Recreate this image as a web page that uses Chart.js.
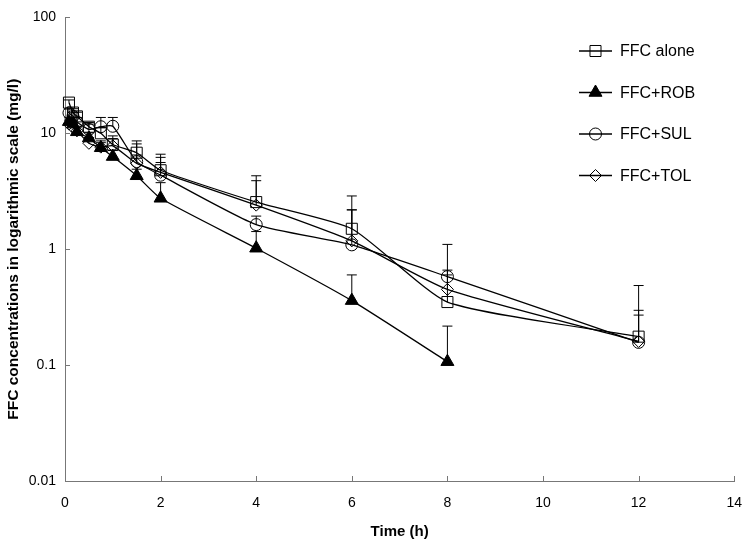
<!DOCTYPE html>
<html>
<head>
<meta charset="utf-8">
<script src="https://cdn.jsdelivr.net/npm/chart.js@4.4.1/dist/chart.umd.min.js"></script>
<style>
  html, body { margin: 0; padding: 0; background: #fff; }
  #wrap { width: 756px; height: 545px; }
</style>
</head>
<body>
<div id="wrap"><canvas id="pkChart"></canvas></div>
<script>
// Sampling times (h)
const times = [0.083, 0.167, 0.25, 0.5, 0.75, 1, 1.5, 2, 4, 6, 8, 12];

const seriesNames = ['FFC alone', 'FFC+ROB', 'FFC+SUL', 'FFC+TOL'];

// Mean concentrations (mg/l) and upper SD
const ffcAlone   = [18.4, 15.1, 14.0, 11.4, 10.0, 8.0, 6.8, 4.8, 2.55, 1.5, 0.35, 0.176];
const ffcAloneSd = [1.0, 1.2, 1.2, 1.0, 1.2, 1.5, 1.3, 1.8, 1.75, 1.38, 0.25, 0.31];

const ffcRob   = [12.6, 12.0, 10.3, 9.1, 7.5, 6.3, 4.3, 2.75, 1.02, 0.36, 0.107];
const ffcRobSd = [1.0, 1.0, 1.0, 1.0, 0.8, 0.8, 0.6, 1.0, 0.4, 0.24, 0.11];

const ffcSul   = [15.0, 14.0, 12.5, 10.8, 11.4, 11.5, 5.7, 4.35, 1.63, 1.09, 0.58, 0.157];
const ffcSulSd = [1.2, 1.2, 1.2, 1.2, 2.3, 2.2, 2.9, 1.85, 0.3, 1.1, 0.52, 0.14];

const ffcTol   = [12.0, 11.2, 10.5, 8.2, 7.6, 7.8, 5.5, 4.6, 2.4, 1.18, 0.45, 0.16];
const ffcTolSd = [1.0, 1.0, 1.0, 1.0, 1.0, 1.2, 1.0, 1.0, 1.5, 1.0, 0.21, 0.11];

const xTicks = [0, 2, 4, 6, 8, 10, 12, 14];
const yTicks = [0.01, 0.1, 1, 10, 100];

const FONT = "'Liberation Sans', Arial, sans-serif";
const AXIS_COLOR = '#777';

function points(values) {
    return values.map((v, i) => ({ x: times[i], y: v }));
}

const markers = [
    { style: 'rect', radius: 7.8, fill: 'rgba(0,0,0,0)' },
    { style: 'triangle', radius: 7.5, fill: '#000' },
    { style: 'circle', radius: 6, fill: 'rgba(0,0,0,0)' },
    { style: 'rectRot', radius: 6, fill: 'rgba(0,0,0,0)' }
];

const allValues = [ffcAlone, ffcRob, ffcSul, ffcTol];
const allSd = [ffcAloneSd, ffcRobSd, ffcSulSd, ffcTolSd];

const datasets = seriesNames.map((name, i) => ({
    label: name,
    data: points(allValues[i]),
    sd: allSd[i],
    borderColor: '#000',
    borderWidth: 1.3,
    tension: 0.18,
    pointStyle: markers[i].style,
    pointRadius: markers[i].radius,
    pointBackgroundColor: markers[i].fill,
    pointBorderColor: '#000',
    pointBorderWidth: 1,
    clip: false
}));

// Upper error bars
const errorBars = {
    id: 'errorBars',
    afterDatasetsDraw(chart) {
        const { ctx, scales: { x, y } } = chart;
        ctx.save();
        ctx.strokeStyle = '#000';
        ctx.lineWidth = 1;
        chart.data.datasets.forEach(ds => {
            ds.data.forEach((p, i) => {
                const px = x.getPixelForValue(p.x);
                const py = y.getPixelForValue(p.y);
                const top = y.getPixelForValue(p.y + ds.sd[i]);
                ctx.beginPath();
                ctx.moveTo(px, py);
                ctx.lineTo(px, top);
                ctx.moveTo(px - 5, top);
                ctx.lineTo(px + 5, top);
                ctx.stroke();
            });
        });
        ctx.restore();
    }
};

// Tick marks pointing into the plot
const innerTicks = {
    id: 'innerTicks',
    afterDraw(chart) {
        const { ctx, chartArea: a, scales: { x, y } } = chart;
        ctx.save();
        ctx.strokeStyle = AXIS_COLOR;
        ctx.lineWidth = 1;
        ctx.beginPath();
        xTicks.forEach(t => {
            const px = Math.round(x.getPixelForValue(t)) + 0.5;
            ctx.moveTo(px, a.bottom);
            ctx.lineTo(px, a.bottom - 5);
        });
        yTicks.forEach(t => {
            const py = Math.round(y.getPixelForValue(t)) + 0.5;
            ctx.moveTo(a.left, py);
            ctx.lineTo(a.left + 5, py);
        });
        ctx.stroke();
        ctx.restore();
    }
};

// Line + marker legend, top right
const lineLegend = {
    id: 'lineLegend',
    afterDraw(chart) {
        const ctx = chart.ctx;
        ctx.save();
        chart.data.datasets.forEach((ds, i) => {
            const yy = 51 + i * 41.5;
            ctx.strokeStyle = '#000';
            ctx.lineWidth = 1.3;
            ctx.beginPath();
            ctx.moveTo(579, yy);
            ctx.lineTo(612, yy);
            ctx.stroke();
            ctx.fillStyle = ds.pointBackgroundColor;
            ctx.lineWidth = 1;
            Chart.helpers.drawPoint(ctx, {
                pointStyle: ds.pointStyle,
                radius: ds.pointRadius,
                rotation: 0,
                borderWidth: 1
            }, 595.5, yy);
            ctx.fillStyle = '#000';
            ctx.font = '16px ' + FONT;
            ctx.textBaseline = 'middle';
            ctx.textAlign = 'left';
            ctx.fillText(ds.label, 620, yy + 1);
        });
        ctx.restore();
    }
};

const ctx = document.getElementById('pkChart').getContext('2d');

new Chart(ctx, {
    type: 'line',
    data: { datasets: datasets },
    options: {
        responsive: true,
        maintainAspectRatio: false,
        animation: false,
        layout: { padding: { left: 0, right: 20, top: 12, bottom: 0 } },
        plugins: {
            legend: { display: false },
            tooltip: { enabled: false }
        },
        scales: {
            x: {
                type: 'linear',
                min: 0,
                max: 14,
                afterBuildTicks: s => { s.ticks = xTicks.map(v => ({ value: v })); },
                afterFit: s => { s.height = 64; },
                grid: { display: false, drawTicks: false },
                border: { display: true, color: AXIS_COLOR, width: 1 },
                ticks: { color: '#000', padding: 14, font: { family: FONT, size: 14 } },
                title: {
                    display: true,
                    text: 'Time (h)',
                    color: '#000',
                    padding: { top: 0, bottom: 4 },
                    font: { family: FONT, size: 15, weight: 'bold' }
                }
            },
            y: {
                type: 'logarithmic',
                min: 0.01,
                max: 100,
                afterBuildTicks: s => { s.ticks = yTicks.map(v => ({ value: v })); },
                afterFit: s => { s.width = 65; },
                grid: { display: false, drawTicks: false },
                border: { display: true, color: AXIS_COLOR, width: 1 },
                ticks: {
                    color: '#000',
                    padding: 9,
                    font: { family: FONT, size: 14 },
                    callback: v => String(v)
                },
                title: {
                    display: true,
                    text: 'FFC concentrations in logarithmic scale (mg/l)',
                    color: '#000',
                    padding: { top: 4, bottom: 0 },
                    font: { family: FONT, size: 15.5, weight: 'bold' }
                }
            }
        }
    },
    plugins: [errorBars, innerTicks, lineLegend]
});
</script>
</body>
</html>
